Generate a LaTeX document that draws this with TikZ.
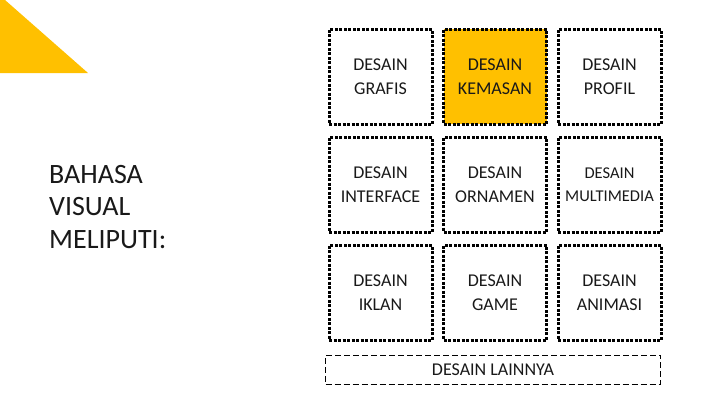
\documentclass[tikz,border=0pt]{standalone}
\usepackage{fontspec}
\setmainfont{Carlito}
\usepackage{tikz}
\usetikzlibrary{positioning}
\definecolor{gold}{HTML}{FFC000}

\begin{document}
\begin{tikzpicture}[
    x=1pt, y=1pt,
    node distance=10pt and 8.5pt,
    every node/.style={text=black!90},
    box/.style={draw, line width=3pt, dash pattern=on 3pt off 1.5pt, align=center, minimum width=103pt, minimum height=95pt, inner sep=2pt, font=\fontsize{18}{23.5}\selectfont},
    goldbox/.style={box, fill=gold},
    otherbox/.style={draw, line width=0.8pt, dash pattern=on 6pt off 3pt, minimum width=335pt, minimum height=29pt, font=\fontsize{18}{20}\selectfont},
    lead/.style={align=left, inner sep=0pt, font=\fontsize{28}{32.5}\selectfont}
]
\useasboundingbox (0,0) rectangle (720,-405);
% corner accent
\fill[gold] (0,0) -- (5,0) -- (88,-73) -- (0,-73) -- cycle;
\node[lead, anchor=north west] (title) at (49,-165) {BAHASA\\VISUAL\\MELIPUTI:};
% grid of boxes
\node[box, anchor=north west] (b11) at (327.5,-27.5) {DESAIN\\GRAFIS};
\node[goldbox, right=of b11] (b12) {DESAIN\\KEMASAN};
\node[box, right=of b12] (b13) {DESAIN\\PROFIL};
\node[box, below=of b11] (b21) {DESAIN\\INTERFACE};
\node[box, below=of b12] (b22) {DESAIN\\ORNAMEN};
\node[box, below=of b13, font=\fontsize{16.5}{23.5}\selectfont] (b23) {DESAIN\\MULTIMEDIA};
\node[box, below=of b21] (b31) {DESAIN\\IKLAN};
\node[box, below=of b22] (b32) {DESAIN\\GAME};
\node[box, below=of b23] (b33) {DESAIN\\ANIMASI};
\node[otherbox, below=13pt of b32, xshift=-2pt] (lain) {DESAIN LAINNYA};
\end{tikzpicture}
\end{document}
